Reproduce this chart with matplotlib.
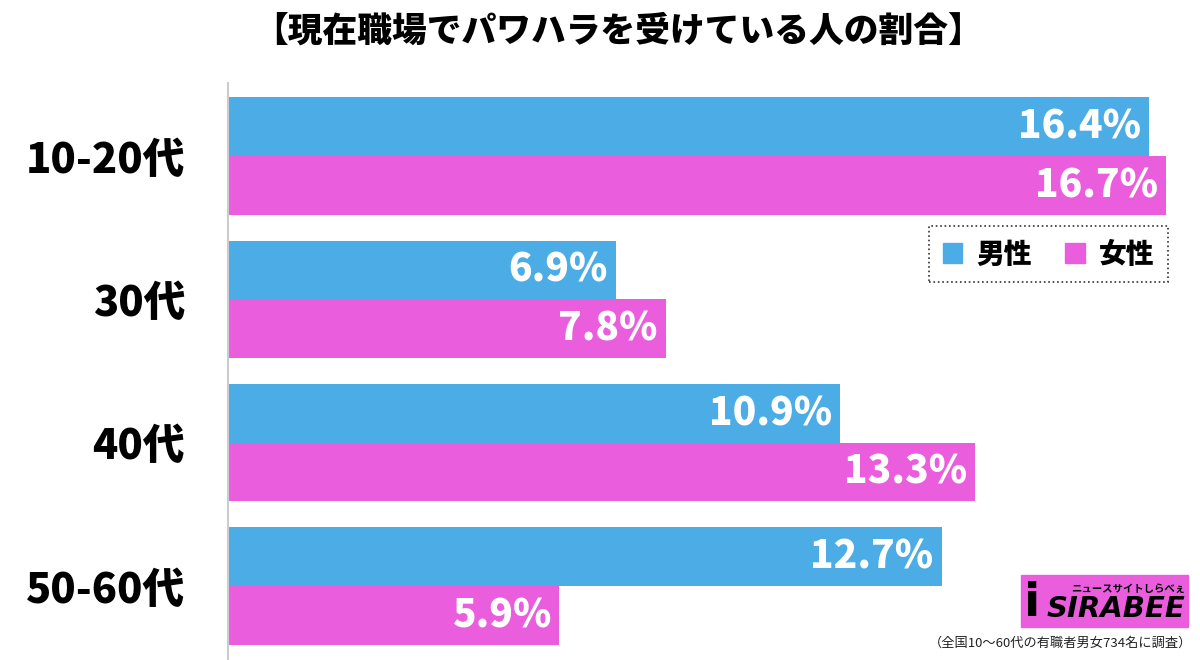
import matplotlib.pyplot as plt
from matplotlib.patches import Rectangle
import numpy as np

plt.rcParams['font.family'] = ['Noto Sans CJK JP', 'DejaVu Sans']

# data
categories = ['10-20代', '30代', '40代', '50-60代']
male = [16.4, 6.9, 10.9, 12.7]
female = [16.7, 7.8, 13.3, 5.9]
series_names = ['男性', '女性']
title = '【現在職場でパワハラを受けている人の割合】'
note = '（全国10〜60代の有職者男女734名に調査）'

blue = '#4BACE6'
pink = '#EA5EDE'

fig = plt.figure(figsize=(12, 6.6), dpi=100)
ax = fig.add_axes([0.19, 0.0, 0.81, 0.874])

y = np.arange(len(categories))
h = 0.41
ax.barh(y - h / 2, male, height=h, color=blue)
ax.barh(y + h / 2, female, height=h, color=pink)

ax.set_xlim(0, 17.3)
ax.set_ylim(3.517, -0.51)

for yi, v in zip(y - h / 2, male):
    ax.text(v - 0.15, yi, f'{v}%', color='white', fontsize=28, fontweight='heavy',
            ha='right', va='center')
for yi, v in zip(y + h / 2, female):
    ax.text(v - 0.15, yi, f'{v}%', color='white', fontsize=28, fontweight='heavy',
            ha='right', va='center')

ax.set_yticks(y)
ax.set_yticklabels(categories, fontsize=30, fontweight='heavy')
ax.tick_params(axis='y', length=0, pad=31)
ax.set_xticks([])
for s in ['top', 'right', 'bottom']:
    ax.spines[s].set_visible(False)
ax.spines['left'].set_color('#cccccc')
ax.spines['left'].set_linewidth(1.5)

fig.text(0.515, 0.953, title, ha='center', va='center', fontsize=25, fontweight='heavy')

# legend
leg = ax.legend([Rectangle((0, 0), 1, 1, color=blue), Rectangle((0, 0), 1, 1, color=pink)],
                series_names, loc='upper right', bbox_to_anchor=(0.967, 0.752),
                borderaxespad=0, ncol=2, fontsize=20, frameon=True, fancybox=False,
                handlelength=0.7, handleheight=0.7, handletextpad=0.5,
                columnspacing=1.2, borderpad=0.5)
for t in leg.get_texts():
    t.set_fontweight('heavy')
fr = leg.get_frame()
fr.set_edgecolor('black')
fr.set_linestyle(':')
fr.set_linewidth(1.2)

# logo
fig.patches.append(Rectangle((1021 / 1200, 1 - 627 / 660), 167 / 1200, 52 / 660,
                             transform=fig.transFigure, color=pink, zorder=5))
fig.text(1032 / 1200, 1 - 603 / 660, 'i', fontsize=34, fontweight='bold', ha='center',
         va='center', color='black', zorder=6, family='DejaVu Sans')
fig.text(1185 / 1200, 1 - 589 / 660, 'ニュースサイトしらべぇ', fontsize=7.5, fontweight='bold',
         ha='right', va='center', color='black', zorder=6)
fig.text(1185 / 1200, 1 - 609 / 660, 'SIRABEE', fontsize=21, fontweight='bold',
         style='italic', ha='right', va='center', color='black', zorder=6,
         family='DejaVu Sans')
fig.text(1192 / 1200, 1 - 643 / 660, note, fontsize=9.5, ha='right', va='center',
         color='#222222')

fig.savefig('out.png', dpi=100)
